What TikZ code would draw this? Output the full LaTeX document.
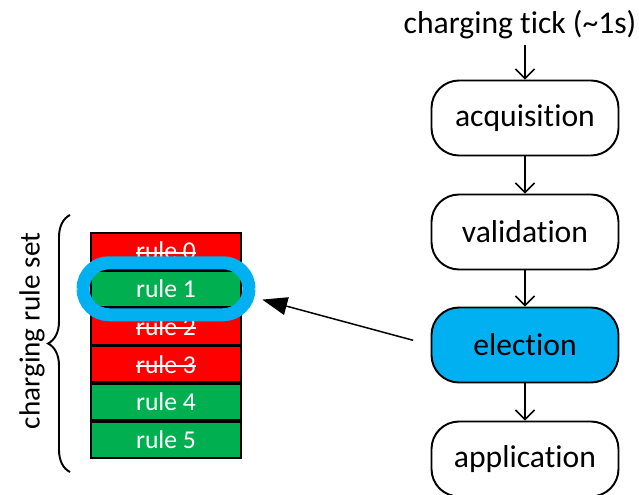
\documentclass[tikz,border=0pt]{standalone}
\usepackage{fontspec}
\setmainfont[Ligatures=NoCommon]{Carlito}
\usetikzlibrary{positioning,arrows.meta,decorations.pathreplacing}
\definecolor{rulered}{HTML}{FF0000}
\definecolor{rulegreen}{HTML}{00B050}
\definecolor{pickblue}{HTML}{00B0F0}
\newcommand{\struck}[1]{\setbox0=\hbox{#1}\rlap{\rule[0.24em]{\wd0}{1pt}}\box0}

\tikzset{
  stage/.style={draw, line width=1.1pt, rounded corners=0.55cm, minimum width=3.74cm, minimum height=1.5cm, font=\fontsize{18}{21}\selectfont},
  rulebox/.style={draw, line width=1pt, text=white, minimum width=3.0cm, minimum height=0.72cm, inner sep=0pt, font=\fontsize{14.6}{17}\selectfont},
  flow/.style={-{Straight Barb[length=1.9mm,width=3.8mm]}, line width=0.85pt}
}

\begin{document}
\begin{tikzpicture}
    \useasboundingbox (0,0) rectangle (12.78,-9.9);

    \node (tick) at (10.4,-0.5) [font=\fontsize{18}{21}\selectfont] {charging tick (\textasciitilde1s)};
    \node (acq) at (10.5,-2.36) [stage] {acquisition};
    \node (val) at (10.5,-4.64) [stage] {validation};
    \node (elec) at (10.5,-6.9) [stage, fill=pickblue] {election};
    \node (appl) at (10.5,-9.18) [stage] {application};

    \draw[flow] (tick.south -| acq.north) -- (acq.north);
    \draw[flow] (acq) -- (val);
    \draw[flow] (val) -- (elec);
    \draw[flow] (elec) -- (appl);

    \node (r0) at (3.32,-5.02) [rulebox, fill=rulered] {\struck{rule 0}};
    \node (r1) [rulebox, fill=rulegreen, below=0pt of r0] {rule 1};
    \node (r2) [rulebox, fill=rulered, below=0pt of r1] {\struck{rule 2}};
    \node (r3) [rulebox, fill=rulered, below=0pt of r2] {\struck{rule 3}};
    \node (r4) [rulebox, fill=rulegreen, below=0pt of r3] {rule 4};
    \node (r5) [rulebox, fill=rulegreen, below=0pt of r4] {rule 5};

    \node (pick) at (r1) [draw=pickblue, line width=0.26cm, rounded corners=0.52cm, minimum width=3.32cm, minimum height=1.04cm] {};
    \draw[-{Triangle[length=0.5cm,width=0.36cm]}, line width=0.85pt, shorten <=0.36cm, shorten >=0.14cm] (elec.west) -- ([yshift=-0.18cm]pick.east);

    \draw[decorate, decoration={brace, amplitude=0.44cm}, line width=1.1pt] (1.4,-9.44) -- (1.4,-4.3);
    \node (setlbl) at (0.64,-6.62) [rotate=90, font=\fontsize{16.6}{19}\selectfont] {charging rule set};
  \end{tikzpicture}
\end{document}
